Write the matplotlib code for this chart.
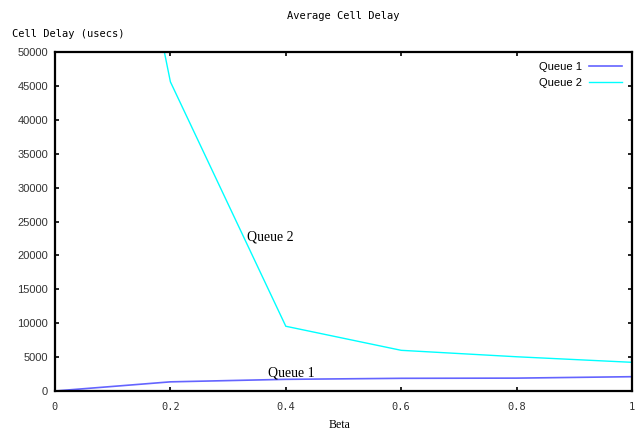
import matplotlib as mpl

mpl.use("Agg")

import matplotlib.pyplot as plt

# data
beta_q1 = [0.0, 0.2, 0.4, 0.6, 0.8, 1.0]
delay_q1 = [0, 1350, 1720, 1870, 1900, 2110]
beta_q2 = [0.1, 0.2, 0.4, 0.6, 0.8, 1.0]
delay_q2 = [87700, 45600, 9550, 6000, 5050, 4230]
x_ticks = [0, 0.2, 0.4, 0.6, 0.8, 1.0]
x_tick_labels = ["0", "0.2", "0.4", "0.6", "0.8", "1"]
y_ticks = list(range(0, 50001, 5000))

mono = "DejaVu Sans Mono"
sans = "Liberation Sans"
fig = plt.figure(figsize=(6.39, 4.33), dpi=100)
ax = fig.add_axes([55 / 639, 1 - 391 / 433, 577 / 639, 339 / 433])

ax.plot(beta_q1, delay_q1, color="#6464ff", linewidth=1.2, label="Queue 1", solid_joinstyle="miter")
ax.plot(beta_q2, delay_q2, color="#00ffff", linewidth=1.0, label="Queue 2", solid_joinstyle="miter")

ax.set_xlim(0, 1)
ax.set_ylim(0, 50000)
ax.set_xticks(x_ticks)
ax.set_xticklabels(x_tick_labels, family=mono, fontsize=7.5, color="#333333")
ax.set_yticks(y_ticks)
ax.set_yticklabels([str(v) for v in y_ticks], family=sans, fontsize=8, color="#333333")
ax.tick_params(direction="in", length=3, width=1.2, top=True, right=True, pad=5)
ax.tick_params(axis="x", pad=8)
for spine in ax.spines.values():
    spine.set_linewidth(1.6)

ax.text(0.374, 22700, "Queue 2", family="Liberation Serif", fontsize=10, ha="center", va="center")
ax.text(0.41, 2650, "Queue 1", family="Liberation Serif", fontsize=10, ha="center", va="center")

leg = ax.legend(loc="upper right", frameon=False, prop={"family": sans, "size": 8},
                handlelength=3.0, handletextpad=0.6, markerfirst=False, borderaxespad=0.5,
                labelspacing=0.5)

fig.text(343 / 639, 1 - 16 / 433, "Average Cell Delay", family=mono, fontsize=7.5,
         ha="center", va="center")
fig.text(12 / 639, 1 - 34 / 433, "Cell Delay (usecs)", family=mono, fontsize=7.5,
         ha="left", va="center")
fig.text(340 / 639, 1 - 425 / 433, "Beta", family="Liberation Serif", fontsize=8.5,
         ha="center", va="center")

fig.savefig("out.png", facecolor="white")
